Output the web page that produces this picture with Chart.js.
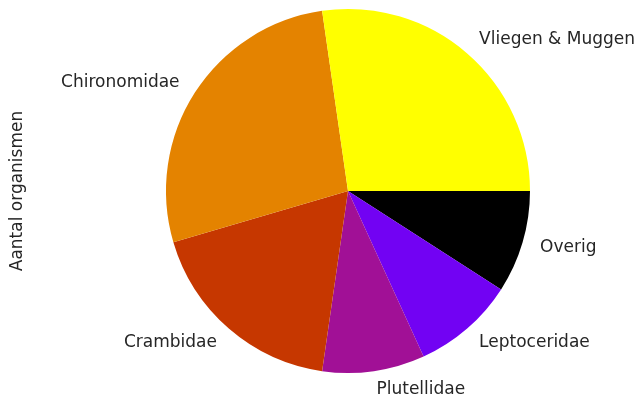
<!DOCTYPE html>
<html>
<head>
<meta charset="utf-8">
<script src="https://cdn.jsdelivr.net/npm/chart.js@4/dist/chart.umd.min.js"></script>
<style>
  html, body { margin: 0; padding: 0; background: #fff; }
  #wrap { position: relative; width: 637px; height: 401px; }
</style>
</head>
<body>
<div id="wrap"><canvas id="c" width="637" height="401"></canvas></div>
<script>
(function () {
  "use strict";

  // matplotlib order (counter-clockwise from east)
  var categories = ["Vliegen & Muggen", "Chironomidae", "Crambidae", "Plutellidae", "Leptoceridae", "Overig"];
  var counts = [3, 3, 2, 1, 1, 1];
  var colors = ["#ffff00", "#e48300", "#c63700", "#a11096", "#7202f3", "#000000"];
  var yTitle = "Aantal organismen";

  // Chart.js draws clockwise, so reverse to get the same layout
  var labels = categories.slice().reverse();
  var values = counts.slice().reverse();
  var fills = colors.slice().reverse();

  var FONT = "DejaVu Sans, sans-serif";

  var sliceLabels = {
    id: "sliceLabels",
    afterDraw: function (chart) {
      var ctx = chart.ctx;
      var arcs = chart.getDatasetMeta(0).data;
      ctx.save();
      ctx.font = "17px " + FONT;
      ctx.fillStyle = "#262626";
      ctx.textBaseline = "middle";
      arcs.forEach(function (arc, i) {
        var p = arc.getProps(["x", "y", "startAngle", "endAngle", "outerRadius"], true);
        var mid = (p.startAngle + p.endAngle) / 2;
        var r = p.outerRadius * 1.1;
        var lx = p.x + Math.cos(mid) * r;
        var ly = p.y + Math.sin(mid) * r;
        ctx.textAlign = Math.cos(mid) > 0 ? "left" : "right";
        ctx.fillText(chart.data.labels[i], lx, ly);
      });
      // y axis title
      var a = chart.chartArea;
      ctx.translate(18, (a.top + a.bottom) / 2);
      ctx.rotate(-Math.PI / 2);
      ctx.textAlign = "center";
      ctx.fillText(yTitle, 0, 0);
      ctx.restore();
    }
  };

  new Chart(document.getElementById("c").getContext("2d"), {
    type: "pie",
    data: {
      labels: labels,
      datasets: [{
        data: values,
        backgroundColor: fills,
        borderWidth: 0
      }]
    },
    options: {
      responsive: false,
      animation: false,
      rotation: 90,
      layout: { padding: { top: 9, bottom: 28, left: 60, right: 1 } },
      plugins: {
        legend: { display: false },
        tooltip: { enabled: false }
      }
    },
    plugins: [sliceLabels]
  });
})();
</script>
</body>
</html>
